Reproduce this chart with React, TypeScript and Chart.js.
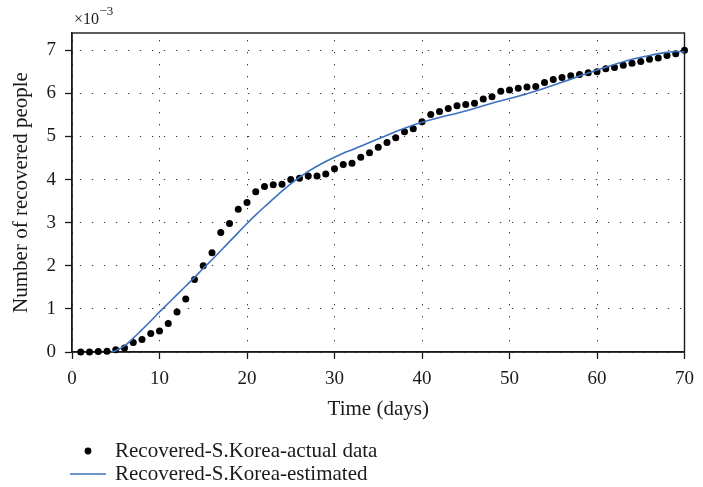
import React, { useEffect, useRef } from "react";
import { Chart, registerables } from "chart.js";

Chart.register(...registerables);

const actualDays = [
  1, 2, 3, 4, 5, 6, 7, 8, 9, 10, 11, 12, 13, 14, 15, 16, 17, 18, 19, 20,
  21, 22, 23, 24, 25, 26, 27, 28, 29, 30, 31, 32, 33, 34, 35, 36, 37, 38, 39, 40,
  41, 42, 43, 44, 45, 46, 47, 48, 49, 50, 51, 52, 53, 54, 55, 56, 57, 58, 59, 60,
  61, 62, 63, 64, 65, 66, 67, 68, 69, 70,
];
const actualValues = [
  0, 0, 0.01, 0.02, 0.05, 0.09, 0.22, 0.29, 0.43, 0.49,
  0.66, 0.93, 1.23, 1.68, 2.0, 2.3, 2.77, 2.98, 3.31, 3.47,
  3.72, 3.84, 3.88, 3.89, 4.0, 4.03, 4.08, 4.08, 4.13, 4.25,
  4.35, 4.38, 4.52, 4.62, 4.75, 4.86, 4.97, 5.11, 5.18, 5.34,
  5.51, 5.58, 5.65, 5.71, 5.74, 5.77, 5.87, 5.92, 6.05, 6.08,
  6.12, 6.15, 6.16, 6.25, 6.32, 6.37, 6.41, 6.44, 6.48, 6.5,
  6.57, 6.6, 6.65, 6.7, 6.74, 6.79, 6.82, 6.88, 6.92, 7.0,
];

const estDays = [
  4.5, 5, 5.5, 6, 7, 8, 9, 10, 11, 12, 13, 14, 15, 16, 17, 18, 19, 20,
  21, 22, 23, 24, 25, 26, 27, 28, 29, 30, 31, 32, 34, 36, 38, 40, 42, 44, 46,
  48, 50, 52, 54, 56, 58, 60, 62, 64, 66, 68, 69, 70,
];
const estValues = [
  0, 0.03, 0.08, 0.14, 0.32, 0.52, 0.72, 0.93, 1.13, 1.33, 1.53, 1.73, 1.94, 2.14, 2.35, 2.56, 2.77, 2.98,
  3.18, 3.37, 3.55, 3.73, 3.9, 4.05, 4.19, 4.31, 4.42, 4.52, 4.61, 4.69, 4.86, 5.03, 5.19, 5.33, 5.44, 5.54, 5.65,
  5.77, 5.88, 5.99, 6.12, 6.26, 6.4, 6.54, 6.67, 6.79, 6.88, 6.95, 6.97, 6.96,
];

const xTickStep = 10;
const yTickStep = 1;
const seriesLabels = ["Recovered-S.Korea-actual data", "Recovered-S.Korea-estimated"];
const xTitle = "Time (days)";
const yTitle = "Number of recovered people";

const SERIF = "'Liberation Serif', 'Times New Roman', serif";
const BLUE = "#3b72bd";
const INK = "#1a1a1a";

const framePlugin = {
  id: "frameBox",
  beforeDatasetsDraw(chart: any) {
    const { ctx, chartArea } = chart;
    ctx.save();
    ctx.setLineDash([]);
    ctx.strokeStyle = INK;
    ctx.lineWidth = 1.4;
    ctx.strokeRect(chartArea.left, chartArea.top, chartArea.right - chartArea.left, chartArea.bottom - chartArea.top);
    ctx.restore();
  },
  afterDraw(chart: any) {
    const { ctx, chartArea } = chart;
    ctx.save();
    ctx.fillStyle = INK;
    // exponent label
    ctx.textBaseline = "alphabetic";
    ctx.textAlign = "left";
    ctx.font = `16px ${SERIF}`;
    ctx.fillText("×10", chartArea.left + 2, chartArea.top - 9);
    const w = ctx.measureText("×10").width;
    ctx.font = `13px ${SERIF}`;
    ctx.fillText("−3", chartArea.left + 2 + w + 0.5, chartArea.top - 18);
    // legend
    const ds = chart.data.datasets;
    const rows = [451, 474];
    ctx.font = `21px ${SERIF}`;
    ctx.textBaseline = "middle";
    ctx.beginPath();
    ctx.arc(88, rows[0], 3.4, 0, Math.PI * 2);
    ctx.fillStyle = "#000";
    ctx.fill();
    ctx.beginPath();
    ctx.moveTo(70, rows[1]);
    ctx.lineTo(106, rows[1]);
    ctx.strokeStyle = BLUE;
    ctx.lineWidth = 1.5;
    ctx.stroke();
    ctx.fillStyle = INK;
    ctx.fillText(ds[0].label, 115, rows[0]);
    ctx.fillText(ds[1].label, 115, rows[1]);
    ctx.restore();
  },
};

export default function App() {
  const canvasRef = useRef<HTMLCanvasElement | null>(null);

  useEffect(() => {
    const canvas = canvasRef.current;
    if (!canvas) return;
    const chart = new Chart(canvas, {
      type: "line",
      data: {
        datasets: [
          {
            label: seriesLabels[0],
            data: actualDays.map((d, i) => ({ x: d, y: actualValues[i] })),
            showLine: false,
            pointRadius: 3.5,
            pointBackgroundColor: "#000",
            pointBorderWidth: 0,
            pointBorderColor: "#000",
            borderColor: "#000",
            clip: false,
            order: 1,
          },
          {
            label: seriesLabels[1],
            data: estDays.map((d, i) => ({ x: d, y: estValues[i] })),
            borderColor: BLUE,
            borderWidth: 1.6,
            pointRadius: 0,
            fill: false,
            cubicInterpolationMode: "monotone",
            clip: false,
            order: 0,
          },
        ],
      } as any,
      options: {
        animation: false,
        responsive: true,
        maintainAspectRatio: false,
        devicePixelRatio: 1,
        layout: { padding: { top: 33, right: 11, bottom: 65, left: 0 } },
        plugins: {
          legend: { display: false },
          tooltip: { enabled: false },
        },
        scales: {
          x: {
            type: "linear",
            min: 0,
            max: 70,
            ticks: {
              stepSize: xTickStep,
              font: { family: SERIF, size: 19 },
              color: INK,
              padding: 9,
              maxRotation: 0,
            },
            grid: {
              color: "#333",
              lineWidth: 1,
              tickLength: 7,
              tickColor: INK,
              tickWidth: 1.3,
              tickBorderDash: [],
            },
            border: { display: true, color: INK, width: 1.4, dash: [1.3, 10.7], dashOffset: 5 },
            title: {
              display: true,
              text: xTitle,
              font: { family: SERIF, size: 21 },
              color: INK,
              padding: { top: 0, bottom: 0 },
            },
            afterFit(scale: any) {
              scale.height = 70;
            },
          },
          y: {
            type: "linear",
            min: 0,
            max: 7.4,
            ticks: {
              stepSize: yTickStep,
              includeBounds: false,
              font: { family: SERIF, size: 19 },
              color: INK,
              padding: 9,
            },
            grid: {
              color: "#333",
              lineWidth: 1,
              tickLength: 7,
              tickColor: INK,
              tickWidth: 1.3,
              tickBorderDash: [],
            },
            border: { display: true, color: INK, width: 1.4, dash: [1.3, 10.7], dashOffset: 4.5 },
            title: {
              display: true,
              text: yTitle,
              font: { family: SERIF, size: 21 },
              color: INK,
              padding: { top: 9, bottom: 0 },
            },
            afterFit(scale: any) {
              scale.width = 72;
            },
          },
        },
      } as any,
      plugins: [framePlugin],
    });
    return () => chart.destroy();
  }, []);

  return (
    <div style={{ position: "fixed", left: 0, top: 0, width: 703, height: 487, background: "#fff" }}>
      <canvas ref={canvasRef} style={{ display: "block" }} />
    </div>
  );
}
